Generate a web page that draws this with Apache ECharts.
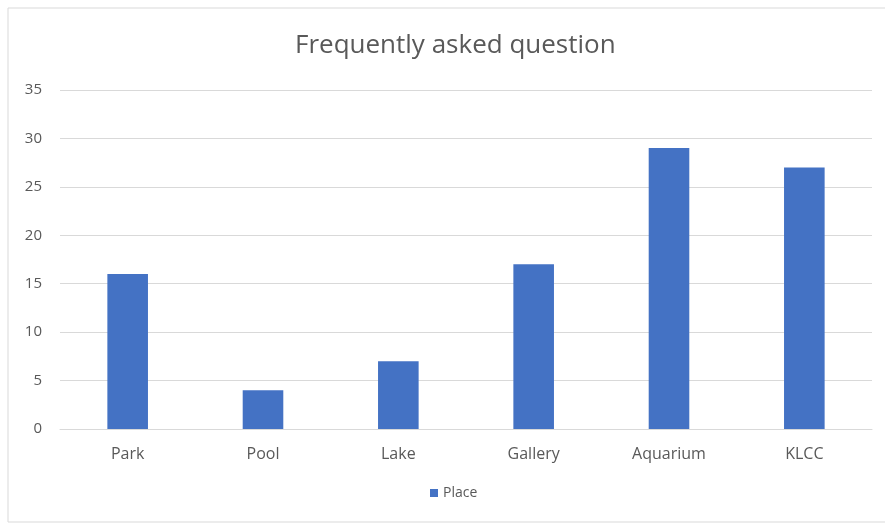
<!DOCTYPE html>
<html>
<head>
<meta charset="utf-8">
<script src="https://cdn.jsdelivr.net/npm/echarts@6/dist/echarts.min.js"></script>
<style>
  html, body { margin: 0; padding: 0; background: #fff; }
  #main { width: 885px; height: 526px; }
</style>
</head>
<body>
<div id="main"></div>
<script>
var categories = ['Park', 'Pool', 'Lake', 'Gallery', 'Aquarium', 'KLCC'];
var placeValues = [16, 4, 7, 17, 29, 27];
var seriesName = 'Place';
var chartTitle = 'Frequently asked question';

var chart = echarts.init(document.getElementById('main'), null, {renderer: 'canvas'});

var labelFont = '"Open Sans", "Noto Sans", sans-serif';

chart.setOption({
    backgroundColor: '#fff',
    animation: false,
    graphic: [{
        type: 'rect',
        shape: {x: 8, y: 8, width: 890, height: 514},
        style: {fill: 'none', stroke: '#d9d9d9', lineWidth: 1}
    }],
    title: {
        text: chartTitle,
        left: 290,
        top: 28,
        textStyle: {fontFamily: labelFont, fontWeight: 'normal', fontSize: 26, color: '#595959'}
    },
    legend: {
        bottom: 21,
        left: 425,
        itemWidth: 8,
        itemHeight: 8,
        itemGap: 4,
        icon: 'rect',
        textStyle: {fontFamily: labelFont, fontSize: 14, color: '#595959'},
        data: [seriesName]
    },
    grid: {left: 60, right: 13, top: 90, bottom: 97},
    xAxis: {
        type: 'category',
        data: categories,
        axisTick: {show: false},
        axisLine: {lineStyle: {color: '#d9d9d9'}},
        axisLabel: {fontFamily: labelFont, fontSize: 16, color: '#595959', margin: 17}
    },
    yAxis: {
        type: 'value',
        min: 0,
        max: 35,
        interval: 5,
        axisLine: {show: false},
        axisTick: {show: false},
        axisLabel: {fontFamily: labelFont, fontSize: 15, color: '#595959', margin: 18},
        splitLine: {lineStyle: {color: '#d9d9d9'}}
    },
    series: [{
        name: seriesName,
        type: 'bar',
        data: placeValues,
        barWidth: '30%',
        itemStyle: {color: '#4472c4'}
    }]
});
</script>
</body>
</html>
